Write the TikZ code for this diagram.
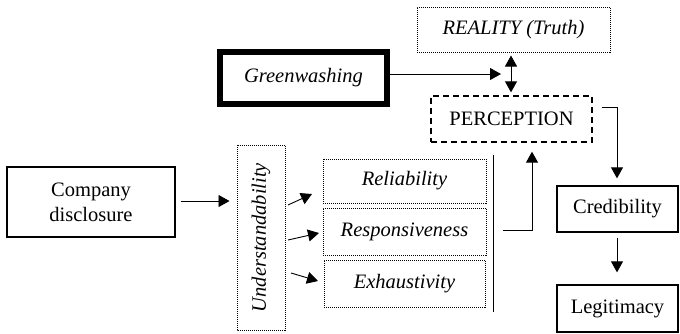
\documentclass[tikz,border=0pt]{standalone}
\usepackage{fontspec}
\setmainfont{Liberation Serif}
\newfontfamily\tnr{Liberation Serif}
\usetikzlibrary{arrows.meta}
\begin{document}
\begin{tikzpicture}[x=1pt,y=-1pt,
  every node/.style={font=\tnr\fontsize{20.5}{25}\selectfont, inner sep=0pt, align=center},
  solidbox/.style={draw, line width=1.3pt},
  thickbox/.style={draw, line width=6pt},
  dotbox/.style={draw, line width=1pt, dash pattern=on 1pt off 1pt},
  dashbox/.style={draw, line width=1.3pt, dash pattern=on 6pt off 4pt},
  arr/.style={-{Triangle[length=11pt,width=12pt]}, line width=0.9pt},
  dblarr/.style={{Triangle[length=11pt,width=12pt]}-{Triangle[length=11pt,width=12pt]}, line width=0.9pt},
  plain/.style={line width=0.9pt}]
\useasboundingbox (0,0) rectangle (680,333);

% nodes
\node[thickbox, minimum width=167pt, minimum height=52pt] (green) at (303.5,78) {\textit{Greenwashing}};
\node[dotbox, minimum width=193pt, minimum height=45pt] (real) at (513.5,29.5) {\textit{REALITY (Truth)}};
\node[dashbox, minimum width=161pt, minimum height=46pt] (perc) at (511.5,119) {PERCEPTION};
\node[solidbox, minimum width=121pt, minimum height=46pt] (cred) at (617.5,209) {Credibility};
\node[solidbox, minimum width=121pt, minimum height=47pt] (legit) at (617.5,308.5) {Legitimacy};
\node[solidbox, minimum width=168pt, minimum height=70pt] (comp) at (91,202) {Company\\disclosure};
\node[dotbox, rotate=90, minimum width=185pt, minimum height=48pt] (und) at (261,237.5) {\textit{Understandability}};
\node[dotbox, minimum width=163pt, minimum height=44pt] (rel) at (404.5,181) {\textit{Reliability}};
\node[dotbox, minimum width=163pt, minimum height=47pt] (resp) at (404.5,231.5) {\textit{Responsiveness}};
\node[dotbox, minimum width=161pt, minimum height=47pt] (exh) at (404.5,283.5) {\textit{Exhaustivity}};

% helper coordinates
\coordinate (gwend) at (501,74);
\coordinate (pc) at (617,107);
\coordinate (rp) at (532,230);
\coordinate (vtop) at (493,155);
\coordinate (vbot) at (493,312);
\coordinate (a1s) at (288,205);
\coordinate (a1e) at (312,194);
\coordinate (a2s) at (288,240);
\coordinate (a2e) at (319,233);
\coordinate (a3s) at (291,273);
\coordinate (a3e) at (318,281);

% connectors
\draw[arr] (green.east |- gwend) -- (gwend);
\draw[dblarr, shorten <=3pt, shorten >=3pt] (perc.north -| 511,0) -- (real.south -| 511,0);
\draw[arr, shorten >=7pt] ([xshift=9pt]perc.east |- pc) -- (pc) -- (pc |- cred.north);
\draw[arr, shorten <=5pt, shorten >=12pt] (pc |- cred.south) -- (pc |- legit.north);
\draw[arr, shorten <=5pt, shorten >=7pt] (comp.east |- 0,201) -- (und.north |- 0,201);
\draw[arr] (a1s) -- (a1e);
\draw[arr] (a2s) -- (a2e);
\draw[arr] (a3s) -- (a3e);
\draw[plain] (vtop) -- (vbot);
\draw[arr, shorten >=9pt] ([xshift=16pt]resp.east |- rp) -- (rp) -- (rp |- perc.south);
\end{tikzpicture}
\end{document}
